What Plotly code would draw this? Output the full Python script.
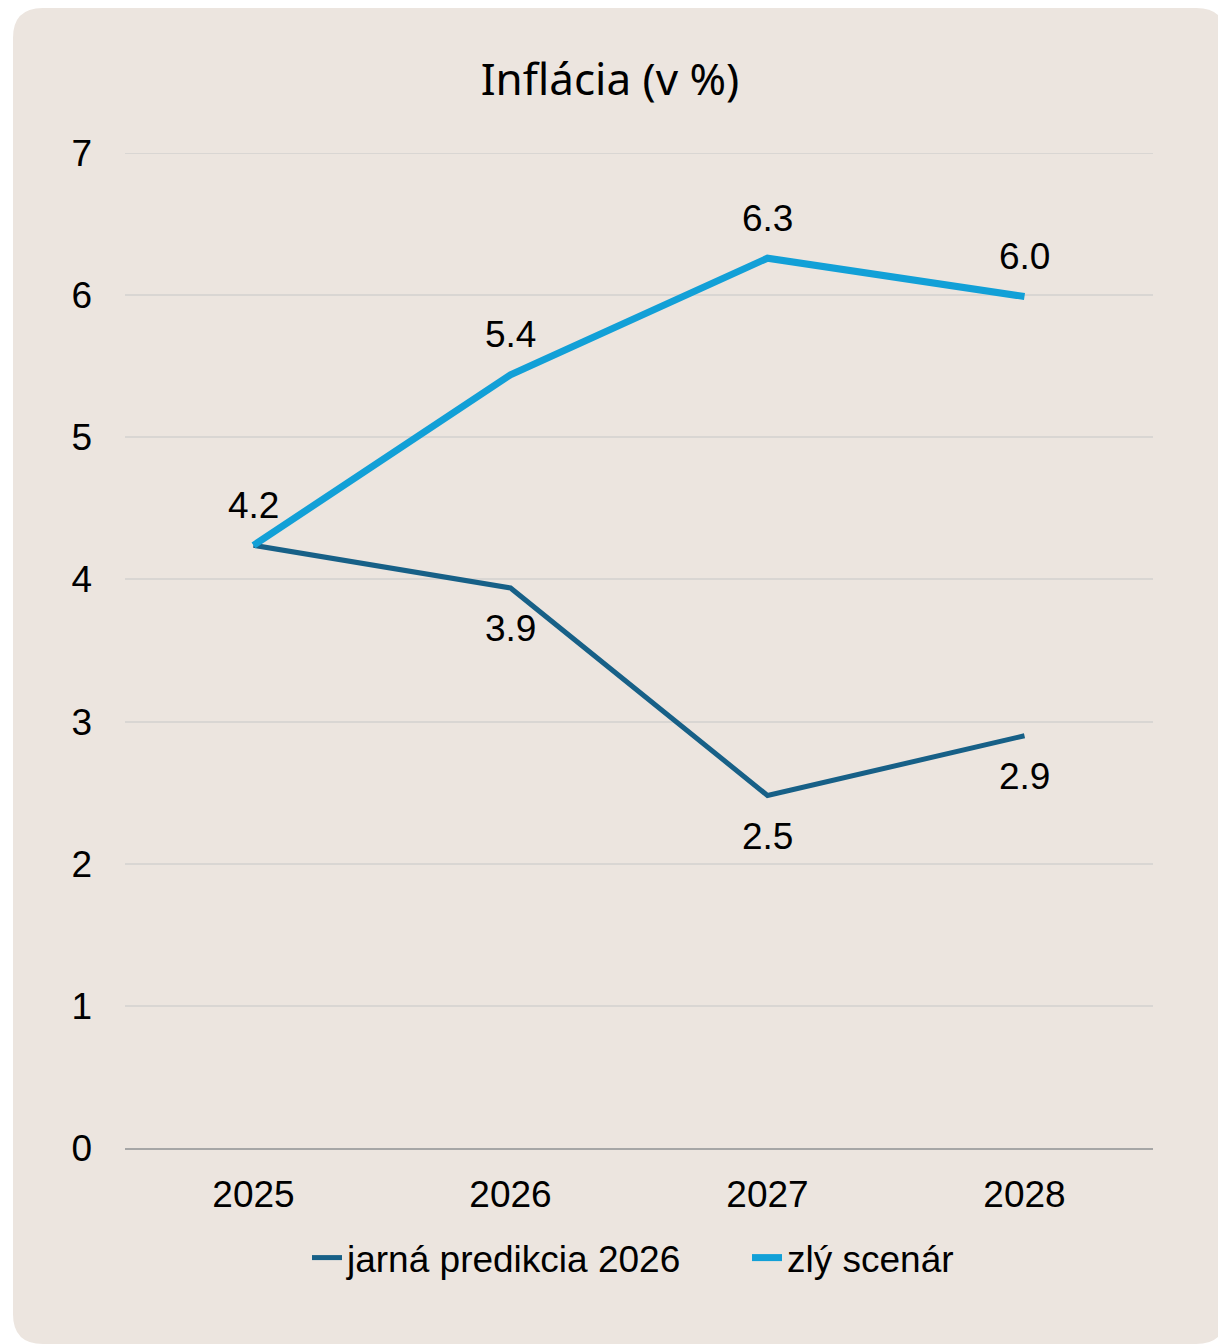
import plotly.graph_objects as go

# data
years = ["2025", "2026", "2027", "2028"]
spring_forecast = [4.24, 3.94, 2.48, 2.90]
bad_scenario = [4.24, 5.44, 6.26, 5.99]

series_names = ["jarná predikcia 2026", "zlý scenár"]
title_text = "Inflácia (v %)"
y_ticks = [0, 1, 2, 3, 4, 5, 6, 7]

DARK = "#176087"
LIGHT = "#12A0D7"
BEIGE = "#ECE5DF"
GRID = "#D9D6D3"
FONT = "Liberation Sans, Arial, sans-serif"

# the page puts the figure 8px in from the top-left corner
W, H = 1218, 1336
M_L, M_R, M_T, M_B = 117, 73, 145, 196
plot_w = W - M_L - M_R
plot_h = H - M_T - M_B


def px_to_paper(x, y):
    return (x - M_L) / plot_w, (H - M_B - y) / plot_h


def rounded_rect(x0, y0, x1, y1, r):
    # rounded background card, built in pixel space and mapped to paper coords
    pts = [
        ("M", [(x0 + r, y0)]),
        ("L", [(x1 - r, y0)]),
        ("Q", [(x1, y0), (x1, y0 + r)]),
        ("L", [(x1, y1 - r)]),
        ("Q", [(x1, y1), (x1 - r, y1)]),
        ("L", [(x0 + r, y1)]),
        ("Q", [(x0, y1), (x0, y1 - r)]),
        ("L", [(x0, y0 + r)]),
        ("Q", [(x0, y0), (x0 + r, y0)]),
    ]
    out = []
    for cmd, coords in pts:
        s = " ".join("%.5f,%.5f" % px_to_paper(cx, cy) for cx, cy in coords)
        out.append(cmd + " " + s)
    return " ".join(out) + " Z"


fig = go.Figure()

fig.add_trace(go.Scatter(
    x=years, y=spring_forecast, name=series_names[0], mode="lines",
    line=dict(color=DARK, width=5), hoverinfo="skip",
))
fig.add_trace(go.Scatter(
    x=years, y=bad_scenario, name=series_names[1], mode="lines",
    line=dict(color=LIGHT, width=7), hoverinfo="skip",
))

# data labels: light series above, dark series below (first point is shared)
for i, v in enumerate(bad_scenario):
    fig.add_annotation(x=i, y=v, text=f"{v:.1f}", showarrow=False, yshift=40,
                       font=dict(size=37, color="#000000", family=FONT))
for i, v in enumerate(spring_forecast):
    if i == 0:
        continue
    fig.add_annotation(x=i, y=v, text=f"{v:.1f}", showarrow=False, yshift=-41,
                       font=dict(size=37, color="#000000", family=FONT))

fig.add_shape(type="path", xref="paper", yref="paper", layer="below",
              path=rounded_rect(5, 0, 1218, 1336, 30),
              fillcolor=BEIGE, line=dict(width=0))

# plotly drops the grid line sitting on the top edge, so draw it here
fig.add_hline(y=y_ticks[-1], line=dict(color=GRID, width=2), layer="below")

fig.update_layout(
    width=W, height=H,
    margin=dict(l=M_L, r=M_R, t=M_T, b=M_B, autoexpand=False),
    paper_bgcolor="#FFFFFF",
    plot_bgcolor="rgba(0,0,0,0)",
    title=dict(text=title_text, x=602 / W, xanchor="center", y=1 - 72 / H, yanchor="middle",
               font=dict(family="Noto Sans, Open Sans, sans-serif", size=44, color="#000000")),
    font=dict(family=FONT, size=37, color="#000000"),
    showlegend=True,
    legend=dict(orientation="h", x=(299 - M_L) / plot_w, xanchor="left",
                y=-0.1106, yanchor="middle",
                font=dict(size=37, family=FONT), bgcolor="rgba(0,0,0,0)",
                entrywidth=395, entrywidthmode="pixels"),
)

fig.update_xaxes(
    type="category", range=[-0.5, 3.5], showgrid=False, zeroline=False,
    showline=True, linecolor="#A6A6A6", linewidth=2,
    ticks="", ticklabelstandoff=13, tickfont=dict(size=37, family=FONT),
)
fig.update_yaxes(
    range=[0, 7], tickvals=y_ticks, showgrid=True, gridcolor=GRID, gridwidth=2,
    zeroline=False, showline=False, ticks="", ticklabelstandoff=32,
    tickfont=dict(size=37, family=FONT),
)

fig.write_html("out.html")
